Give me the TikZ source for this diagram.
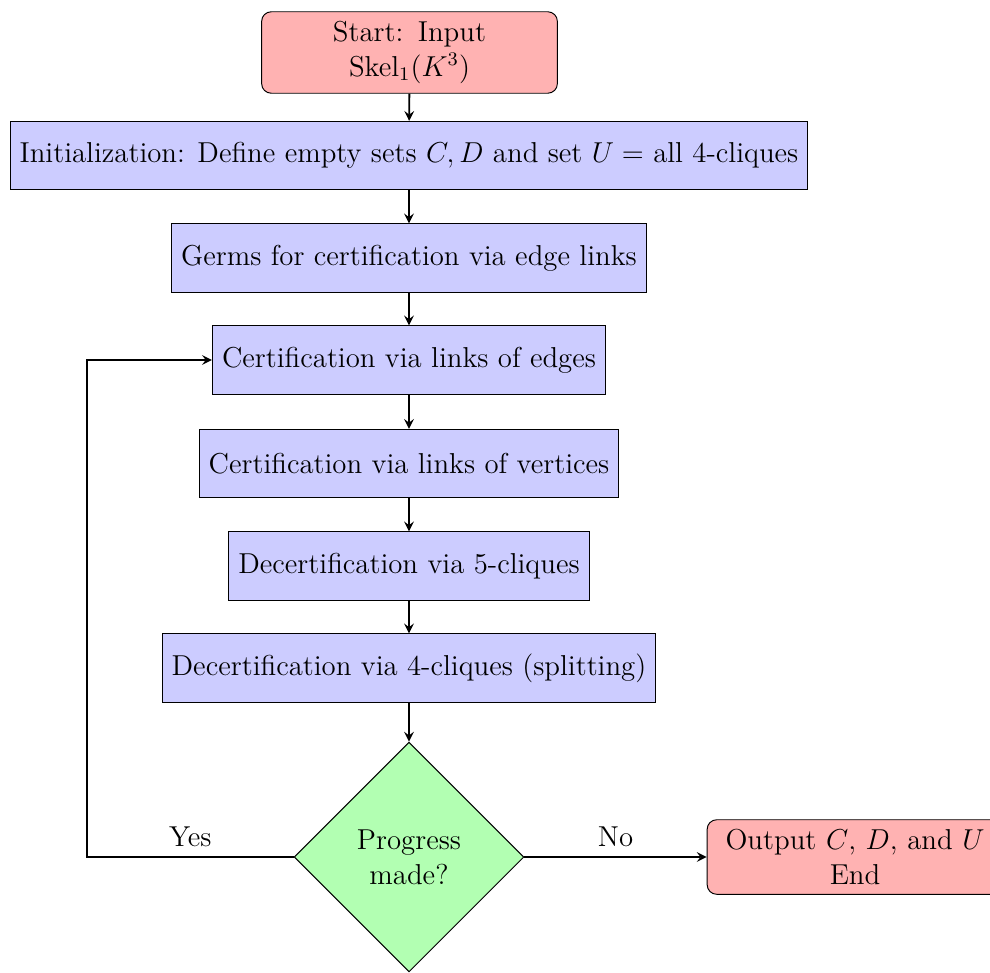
\documentclass[tikz,border=0pt,12pt]{standalone}
\usetikzlibrary{shapes.geometric,arrows}
\begin{document}
\begin{tikzpicture}[x=0.4167pt,y=-0.4167pt,
 startstop/.style={rectangle, rounded corners, minimum height=1cm, text width=4.05cm, inner ysep=4pt, align=center, draw=black, fill=red!30},
 process/.style={rectangle, minimum height=1cm, align=center, draw=black, fill=blue!20},
 decision/.style={diamond, text width=2cm, align=center, draw=black, fill=green!30, aspect=1},
 arrow/.style={thick,->,>=stealth}]
\useasboundingbox (0,0) rectangle (990,972);
\node[startstop] (start) at (409.5,52.5) {Start: Input\\ $\mathrm{Skel}_1(K^3)$};
\node[process] (init) at (409,155.5) {Initialization: Define empty sets $C, D$ and set $U =$ all 4-cliques};
\node[process] (germs) at (409,258) {Germs for certification via edge links};
\node[process] (certE) at (409,360) {Certification via links of edges};
\node[process] (certV) at (409,463.5) {Certification via links of vertices};
\node[process] (dec5) at (409,566) {Decertification via 5-cliques};
\node[process] (dec4) at (409,668) {Decertification via 4-cliques (splitting)};
\node[decision] (decide) at (409,857) {Progress made?};
\node[startstop] (out) at (855,857) {Output $C$, $D$, and $U$\\ End};
\coordinate (loop) at (87,857);
\draw[arrow] (start) -- (init);
\draw[arrow] (init) -- (germs);
\draw[arrow] (germs) -- (certE);
\draw[arrow] (certE) -- (certV);
\draw[arrow] (certV) -- (dec5);
\draw[arrow] (dec5) -- (dec4);
\draw[arrow] (dec4) -- (decide);
\draw[arrow] (decide.west) -- node[above] {Yes} (loop) |- (certE.west);
\draw[arrow] (decide.east) -- node[above] {No} (out.west);
\end{tikzpicture}
\end{document}
